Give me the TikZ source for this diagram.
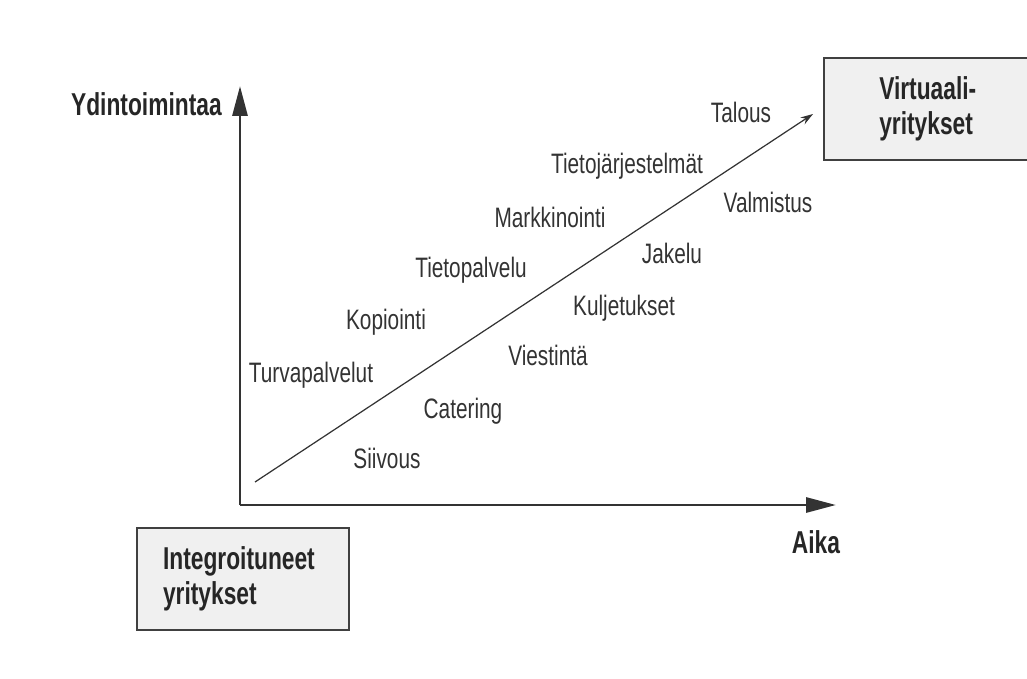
\documentclass[tikz,border=0pt]{standalone}
\usepackage{fontspec}
\setmainfont{Liberation Sans}
\newfontfamily\itemfont[FakeStretch=0.74]{Liberation Sans}
\newfontfamily\headfont[FakeStretch=0.72]{Liberation Sans}
\usepackage{tikz}
\usetikzlibrary{arrows.meta}
\usetikzlibrary{positioning}

\tikzset{
  item/.style={anchor=base, inner sep=0pt, text=black!80,
    font=\itemfont\fontsize{16}{18}\selectfont},
  head/.style={inner sep=0pt, text=black!85,
    font=\headfont\bfseries\fontsize{18}{20}\selectfont},
  firmbox/.style={head, draw=black!75, fill=black!6, line width=0.8pt,
    minimum height=2.04cm, align=left},
  axis/.style={line width=1.7pt, black!80,
    -{Triangle[length=0.6cm,width=0.3cm]}},
  trend/.style={line width=0.7pt, black!80,
    -{Stealth[length=0.25cm,width=0.16cm]}}
}

\begin{document}
\begin{tikzpicture}[x=0.02cm,y=-0.02cm]
  \useasboundingbox (0,0) rectangle (1027,679);

  \coordinate (origin) at (240,505);
  \coordinate (ytip) at (240,86);
  \coordinate (xtip) at (836,505);
  \draw[axis] (origin) -- (ytip);
  \draw[axis] (origin) -- (xtip);

  \node[head, anchor=base east] (yname) at (222,115) {Ydintoimintaa};
  \node[head, anchor=base] (xname) at (816,553) {Aika};

  \coordinate (tstart) at (255,482);
  \coordinate (tend) at (813,114);
  \draw[trend] (tstart) -- (tend);

  \node[firmbox, minimum width=4.24cm, text width=3.2cm] (integ) at (243,579)
    {Integroituneet\\yritykset};
  \node[firmbox, minimum width=4.16cm, text width=1.95cm] (virt) at (928,109)
    {Virtuaali-\\yritykset};

  \node[item] (talous) at (741,122) {Talous};
  \node[item] (tietojarj) at (627,173) {Tietojärjestelmät};
  \node[item] (valmistus) at (768,212) {Valmistus};
  \node[item] (markk) at (550,227) {Markkinointi};
  \node[item] (jakelu) at (672,263) {Jakelu};
  \node[item] (tietopalv) at (471,277) {Tietopalvelu};
  \node[item] (kulj) at (624,315) {Kuljetukset};
  \node[item] (kopiointi) at (386,329) {Kopiointi};
  \node[item] (viestinta) at (548,365) {Viestintä};
  \node[item] (turva) at (311,382) {Turvapalvelut};
  \node[item] (catering) at (463,418) {Catering};
  \node[item] (siivous) at (387,468) {Siivous};
\end{tikzpicture}
\end{document}
